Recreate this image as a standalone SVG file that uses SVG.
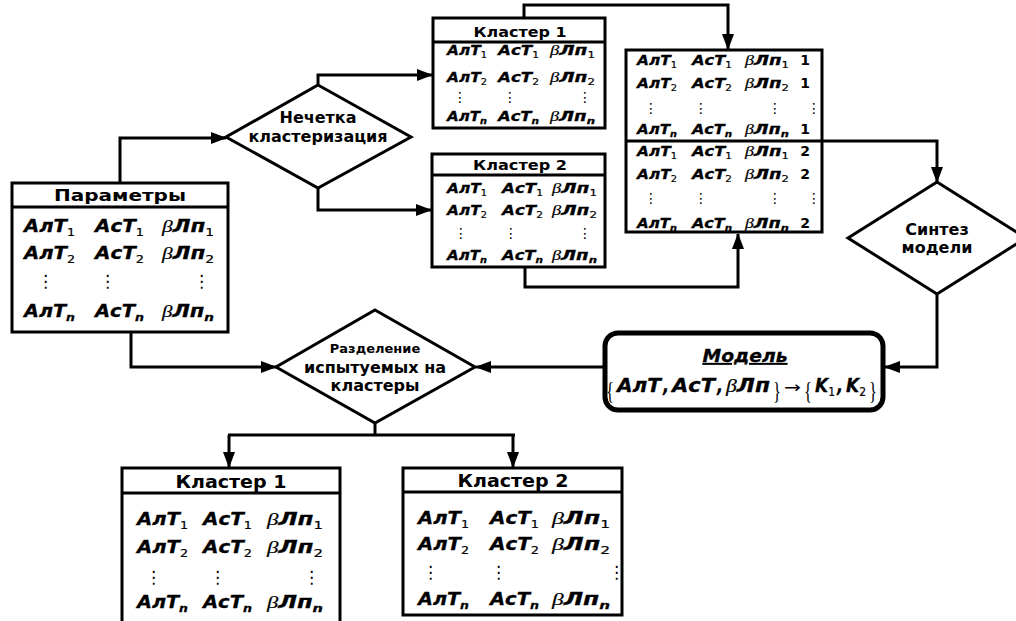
<svg xmlns="http://www.w3.org/2000/svg" width="1016" height="621" viewBox="0 0 1016 621">
<defs>
<marker id="ah" viewBox="0 0 16 12" refX="15" refY="6" markerWidth="16" markerHeight="12" markerUnits="userSpaceOnUse" orient="auto"><path d="M0,0 L16,6 L0,12 z" fill="#000"/></marker>
<style>
.box{fill:#fff;stroke:#000;stroke-width:3}
.ln{fill:none;stroke:#000;stroke-width:3}
.con{fill:none;stroke:#000;stroke-width:3;marker-end:url(#ah)}
.h{font-family:"DejaVu Sans","Liberation Sans",sans-serif;font-weight:bold;text-anchor:middle;fill:#000}
.v{font-family:"DejaVu Sans","Liberation Sans",sans-serif;font-weight:bold;font-style:italic;fill:#000;stroke:#000;stroke-width:0.3}
.b{font-family:"Liberation Serif",serif;font-style:italic;font-weight:normal;stroke-width:0.2}
.sb{font-weight:normal;font-style:normal;stroke-width:0.2}
.sn{font-weight:bold;font-style:italic}
.d{font-family:"DejaVu Sans",sans-serif;fill:#000}
.f17{font-size:17px}
.f14{font-size:14px}
.s17{font-size:11px}
.s14{font-size:9px}
.br{font-family:"Liberation Serif",serif;font-size:26px;fill:#000}
.ar{font-family:"DejaVu Sans",sans-serif;font-size:16px;fill:#000}
</style>
</defs>

<g id="connectors">
<polyline class="con" points="120,183 120,138 226,138"/>
<polyline class="con" points="318,85 318,75 432,75"/>
<polyline class="con" points="318,188 318,210 431,210"/>
<polyline class="con" points="524,18 524,5 728,5 728,49"/>
<polyline class="con" points="525,267 525,287 738,287 738,234"/>
<polyline class="con" points="822,141 937,141 937,182"/>
<polyline class="con" points="937,294 937,367 885,367"/>
<polyline class="con" points="605,367 476,367"/>
<polyline class="con" points="131,332 131,367 276,367"/>
<polyline class="ln" points="375,423 375,435"/>
<polyline class="ln" points="228,435 515,435"/>
<polyline class="con" points="229,435 229,467"/>
<polyline class="con" points="513,435 513,467"/>
</g>

<g id="params">
<rect class="box" x="12" y="183" width="216" height="149"/>
<line class="ln" x1="12" y1="207" x2="228" y2="207"/>
<text class="h" x="120" y="201" font-size="16" textLength="132" lengthAdjust="spacingAndGlyphs">Параметры</text>
<text class="v f17" x="24" y="232" textLength="51" lengthAdjust="spacingAndGlyphs">АлТ<tspan class="sb s17" dy="4">1</tspan></text>
<text class="v f17" x="95" y="232" textLength="49" lengthAdjust="spacingAndGlyphs">АсТ<tspan class="sb s17" dy="4">1</tspan></text>
<text class="v f17" x="162" y="232" textLength="52" lengthAdjust="spacingAndGlyphs"><tspan class="b">β</tspan>Лп<tspan class="sb s17" dy="4">1</tspan></text>
<text class="v f17" x="24" y="259" textLength="51" lengthAdjust="spacingAndGlyphs">АлТ<tspan class="sb s17" dy="4">2</tspan></text>
<text class="v f17" x="95" y="259" textLength="49" lengthAdjust="spacingAndGlyphs">АсТ<tspan class="sb s17" dy="4">2</tspan></text>
<text class="v f17" x="162" y="259" textLength="52" lengthAdjust="spacingAndGlyphs"><tspan class="b">β</tspan>Лп<tspan class="sb s17" dy="4">2</tspan></text>
<text class="d f17" x="37" y="287">⋮</text>
<text class="d f17" x="99" y="287">⋮</text>
<text class="d f17" x="193" y="287">⋮</text>
<text class="v f17" x="24" y="317" textLength="51" lengthAdjust="spacingAndGlyphs">АлТ<tspan class="sn s17" dy="4">n</tspan></text>
<text class="v f17" x="95" y="317" textLength="49" lengthAdjust="spacingAndGlyphs">АсТ<tspan class="sn s17" dy="4">n</tspan></text>
<text class="v f17" x="162" y="317" textLength="52" lengthAdjust="spacingAndGlyphs"><tspan class="b">β</tspan>Лп<tspan class="sn s17" dy="4">n</tspan></text>
</g>

<g id="fuzzy">
<polygon class="box" points="318,85 411,137 318,188 226,137"/>
<text class="h" x="318" y="123" font-size="16">Нечетка</text>
<text class="h" x="318" y="142" font-size="16">кластеризация</text>
</g>

<g id="cluster1top">
<rect class="box" x="433" y="18" width="172" height="110"/>
<line class="ln" x1="433" y1="42" x2="605" y2="42"/>
<text class="h" x="520" y="37" font-size="14" textLength="93" lengthAdjust="spacingAndGlyphs">Кластер 1</text>
<text class="v f14" x="447" y="55" textLength="40" lengthAdjust="spacingAndGlyphs">АлТ<tspan class="sb s14" dy="3">1</tspan></text>
<text class="v f14" x="498" y="55" textLength="41" lengthAdjust="spacingAndGlyphs">АсТ<tspan class="sb s14" dy="3">1</tspan></text>
<text class="v f14" x="550" y="55" textLength="45" lengthAdjust="spacingAndGlyphs"><tspan class="b">β</tspan>Лп<tspan class="sb s14" dy="3">1</tspan></text>
<text class="v f14" x="447" y="82" textLength="40" lengthAdjust="spacingAndGlyphs">АлТ<tspan class="sb s14" dy="3">2</tspan></text>
<text class="v f14" x="498" y="82" textLength="41" lengthAdjust="spacingAndGlyphs">АсТ<tspan class="sb s14" dy="3">2</tspan></text>
<text class="v f14" x="550" y="82" textLength="45" lengthAdjust="spacingAndGlyphs"><tspan class="b">β</tspan>Лп<tspan class="sb s14" dy="3">2</tspan></text>
<text class="d f14" x="453" y="102">⋮</text>
<text class="d f14" x="503" y="102">⋮</text>
<text class="d f14" x="578" y="102">⋮</text>
<text class="v f14" x="447" y="121" textLength="40" lengthAdjust="spacingAndGlyphs">АлТ<tspan class="sn s14" dy="3">n</tspan></text>
<text class="v f14" x="498" y="121" textLength="41" lengthAdjust="spacingAndGlyphs">АсТ<tspan class="sn s14" dy="3">n</tspan></text>
<text class="v f14" x="550" y="121" textLength="45" lengthAdjust="spacingAndGlyphs"><tspan class="b">β</tspan>Лп<tspan class="sn s14" dy="3">n</tspan></text>
</g>

<g id="cluster2top">
<rect class="box" x="432" y="154" width="173" height="113"/>
<line class="ln" x1="432" y1="175" x2="605" y2="175"/>
<text class="h" x="520" y="170" font-size="14" textLength="94" lengthAdjust="spacingAndGlyphs">Кластер 2</text>
<text class="v f14" x="447" y="193" textLength="40" lengthAdjust="spacingAndGlyphs">АлТ<tspan class="sb s14" dy="3">1</tspan></text>
<text class="v f14" x="502" y="193" textLength="41" lengthAdjust="spacingAndGlyphs">АсТ<tspan class="sb s14" dy="3">1</tspan></text>
<text class="v f14" x="552" y="193" textLength="45" lengthAdjust="spacingAndGlyphs"><tspan class="b">β</tspan>Лп<tspan class="sb s14" dy="3">1</tspan></text>
<text class="v f14" x="447" y="215" textLength="40" lengthAdjust="spacingAndGlyphs">АлТ<tspan class="sb s14" dy="3">2</tspan></text>
<text class="v f14" x="502" y="215" textLength="41" lengthAdjust="spacingAndGlyphs">АсТ<tspan class="sb s14" dy="3">2</tspan></text>
<text class="v f14" x="552" y="215" textLength="45" lengthAdjust="spacingAndGlyphs"><tspan class="b">β</tspan>Лп<tspan class="sb s14" dy="3">2</tspan></text>
<text class="d f14" x="454" y="238">⋮</text>
<text class="d f14" x="504" y="238">⋮</text>
<text class="d f14" x="578" y="238">⋮</text>
<text class="v f14" x="447" y="260" textLength="40" lengthAdjust="spacingAndGlyphs">АлТ<tspan class="sn s14" dy="3">n</tspan></text>
<text class="v f14" x="502" y="260" textLength="41" lengthAdjust="spacingAndGlyphs">АсТ<tspan class="sn s14" dy="3">n</tspan></text>
<text class="v f14" x="552" y="260" textLength="45" lengthAdjust="spacingAndGlyphs"><tspan class="b">β</tspan>Лп<tspan class="sn s14" dy="3">n</tspan></text>
</g>

<g id="combined">
<rect class="box" x="626" y="50" width="196" height="182"/>
<line class="ln" x1="626" y1="141" x2="822" y2="141"/>
<text class="v f14" x="637" y="65" textLength="40" lengthAdjust="spacingAndGlyphs">АлТ<tspan class="sb s14" dy="3">1</tspan></text>
<text class="v f14" x="692" y="65" textLength="40" lengthAdjust="spacingAndGlyphs">АсТ<tspan class="sb s14" dy="3">1</tspan></text>
<text class="v f14" x="745" y="65" textLength="44" lengthAdjust="spacingAndGlyphs"><tspan class="b">β</tspan>Лп<tspan class="sb s14" dy="3">1</tspan></text>
<text class="h f14" x="805" y="65">1</text>
<text class="v f14" x="637" y="88" textLength="40" lengthAdjust="spacingAndGlyphs">АлТ<tspan class="sb s14" dy="3">2</tspan></text>
<text class="v f14" x="692" y="88" textLength="40" lengthAdjust="spacingAndGlyphs">АсТ<tspan class="sb s14" dy="3">2</tspan></text>
<text class="v f14" x="745" y="88" textLength="44" lengthAdjust="spacingAndGlyphs"><tspan class="b">β</tspan>Лп<tspan class="sb s14" dy="3">2</tspan></text>
<text class="h f14" x="805" y="88">1</text>
<text class="d f14" x="644" y="113">⋮</text>
<text class="d f14" x="694" y="113">⋮</text>
<text class="d f14" x="768" y="113">⋮</text>
<text class="d f14" x="807" y="113">⋮</text>
<text class="v f14" x="637" y="134" textLength="40" lengthAdjust="spacingAndGlyphs">АлТ<tspan class="sn s14" dy="3">n</tspan></text>
<text class="v f14" x="692" y="134" textLength="40" lengthAdjust="spacingAndGlyphs">АсТ<tspan class="sn s14" dy="3">n</tspan></text>
<text class="v f14" x="745" y="134" textLength="44" lengthAdjust="spacingAndGlyphs"><tspan class="b">β</tspan>Лп<tspan class="sn s14" dy="3">n</tspan></text>
<text class="h f14" x="805" y="134">1</text>
<text class="v f14" x="637" y="156" textLength="40" lengthAdjust="spacingAndGlyphs">АлТ<tspan class="sb s14" dy="3">1</tspan></text>
<text class="v f14" x="692" y="156" textLength="40" lengthAdjust="spacingAndGlyphs">АсТ<tspan class="sb s14" dy="3">1</tspan></text>
<text class="v f14" x="745" y="156" textLength="44" lengthAdjust="spacingAndGlyphs"><tspan class="b">β</tspan>Лп<tspan class="sb s14" dy="3">1</tspan></text>
<text class="h f14" x="805" y="156">2</text>
<text class="v f14" x="637" y="179" textLength="40" lengthAdjust="spacingAndGlyphs">АлТ<tspan class="sb s14" dy="3">2</tspan></text>
<text class="v f14" x="692" y="179" textLength="40" lengthAdjust="spacingAndGlyphs">АсТ<tspan class="sb s14" dy="3">2</tspan></text>
<text class="v f14" x="745" y="179" textLength="44" lengthAdjust="spacingAndGlyphs"><tspan class="b">β</tspan>Лп<tspan class="sb s14" dy="3">2</tspan></text>
<text class="h f14" x="805" y="179">2</text>
<text class="d f14" x="644" y="203">⋮</text>
<text class="d f14" x="694" y="203">⋮</text>
<text class="d f14" x="768" y="203">⋮</text>
<text class="d f14" x="807" y="203">⋮</text>
<text class="v f14" x="637" y="228" textLength="40" lengthAdjust="spacingAndGlyphs">АлТ<tspan class="sn s14" dy="3">n</tspan></text>
<text class="v f14" x="692" y="228" textLength="40" lengthAdjust="spacingAndGlyphs">АсТ<tspan class="sn s14" dy="3">n</tspan></text>
<text class="v f14" x="745" y="228" textLength="44" lengthAdjust="spacingAndGlyphs"><tspan class="b">β</tspan>Лп<tspan class="sn s14" dy="3">n</tspan></text>
<text class="h f14" x="805" y="228">2</text>
</g>

<g id="synthesis">
<polygon class="box" points="937,182 1026,238 937,294 848,238"/>
<text class="h" x="937" y="235" font-size="16">Синтез</text>
<text class="h" x="937" y="253" font-size="16">модели</text>
</g>

<g id="model">
<rect x="605" y="333" width="278" height="77" rx="13" fill="#fff" stroke="#000" stroke-width="5"/>
<text class="v" x="745" y="362" font-size="18" text-anchor="middle" text-decoration="underline" textLength="85" lengthAdjust="spacingAndGlyphs">Модель</text>
<text class="br" x="606" y="399" textLength="8" lengthAdjust="spacingAndGlyphs">{</text>
<text class="v" x="617" y="392" font-size="19" textLength="44" lengthAdjust="spacingAndGlyphs">АлТ</text>
<text class="v" x="663" y="392" font-size="19" textLength="6" lengthAdjust="spacingAndGlyphs">,</text>
<text class="v" x="672" y="392" font-size="19" textLength="43" lengthAdjust="spacingAndGlyphs">АсТ</text>
<text class="v" x="717" y="392" font-size="19" textLength="6" lengthAdjust="spacingAndGlyphs">,</text>
<text class="v" x="726" y="392" font-size="19" textLength="44" lengthAdjust="spacingAndGlyphs"><tspan class="b">β</tspan>Лп</text>
<text class="br" x="773" y="399" textLength="8" lengthAdjust="spacingAndGlyphs">}</text>
<text class="ar" x="784" y="393" textLength="17" lengthAdjust="spacingAndGlyphs">→</text>
<text class="br" x="804" y="399" textLength="8" lengthAdjust="spacingAndGlyphs">{</text>
<text class="v" x="815" y="392" font-size="19" textLength="20" lengthAdjust="spacingAndGlyphs">K<tspan class="sb" font-size="12" dy="4">1</tspan></text>
<text class="v" x="837" y="392" font-size="19" textLength="6" lengthAdjust="spacingAndGlyphs">,</text>
<text class="v" x="846" y="392" font-size="19" textLength="20" lengthAdjust="spacingAndGlyphs">K<tspan class="sb" font-size="12" dy="4">2</tspan></text>
<text class="br" x="869" y="399" textLength="8" lengthAdjust="spacingAndGlyphs">}</text>
</g>

<g id="split">
<polygon class="box" points="375,310 475,367 375,423 276,367"/>
<text class="h" x="375" y="353" font-size="13">Разделение</text>
<text class="h" x="375" y="373" font-size="16">испытуемых на</text>
<text class="h" x="375" y="391" font-size="16">кластеры</text>
</g>

<g id="cluster1bottom">
<rect class="box" x="122" y="468" width="218" height="162"/>
<line class="ln" x1="122" y1="493" x2="340" y2="493"/>
<text class="h" x="231" y="488" font-size="17" textLength="111" lengthAdjust="spacingAndGlyphs">Кластер 1</text>
<text class="v f17" x="137" y="525" textLength="51" lengthAdjust="spacingAndGlyphs">АлТ<tspan class="sb s17" dy="4">1</tspan></text>
<text class="v f17" x="203" y="525" textLength="49" lengthAdjust="spacingAndGlyphs">АсТ<tspan class="sb s17" dy="4">1</tspan></text>
<text class="v f17" x="267" y="525" textLength="56" lengthAdjust="spacingAndGlyphs"><tspan class="b">β</tspan>Лп<tspan class="sb s17" dy="4">1</tspan></text>
<text class="v f17" x="137" y="553" textLength="51" lengthAdjust="spacingAndGlyphs">АлТ<tspan class="sb s17" dy="4">2</tspan></text>
<text class="v f17" x="203" y="553" textLength="49" lengthAdjust="spacingAndGlyphs">АсТ<tspan class="sb s17" dy="4">2</tspan></text>
<text class="v f17" x="267" y="553" textLength="56" lengthAdjust="spacingAndGlyphs"><tspan class="b">β</tspan>Лп<tspan class="sb s17" dy="4">2</tspan></text>
<text class="d f17" x="145" y="583">⋮</text>
<text class="d f17" x="209" y="583">⋮</text>
<text class="d f17" x="303" y="583">⋮</text>
<text class="v f17" x="137" y="608" textLength="51" lengthAdjust="spacingAndGlyphs">АлТ<tspan class="sn s17" dy="4">n</tspan></text>
<text class="v f17" x="203" y="608" textLength="49" lengthAdjust="spacingAndGlyphs">АсТ<tspan class="sn s17" dy="4">n</tspan></text>
<text class="v f17" x="267" y="608" textLength="56" lengthAdjust="spacingAndGlyphs"><tspan class="b">β</tspan>Лп<tspan class="sn s17" dy="4">n</tspan></text>
</g>

<g id="cluster2bottom">
<rect class="box" x="403" y="468" width="219" height="147"/>
<line class="ln" x1="403" y1="492" x2="622" y2="492"/>
<text class="h" x="513" y="487" font-size="17" textLength="111" lengthAdjust="spacingAndGlyphs">Кластер 2</text>
<text class="v f17" x="418" y="524" textLength="51" lengthAdjust="spacingAndGlyphs">АлТ<tspan class="sb s17" dy="4">1</tspan></text>
<text class="v f17" x="490" y="524" textLength="49" lengthAdjust="spacingAndGlyphs">АсТ<tspan class="sb s17" dy="4">1</tspan></text>
<text class="v f17" x="552" y="524" textLength="58" lengthAdjust="spacingAndGlyphs"><tspan class="b">β</tspan>Лп<tspan class="sb s17" dy="4">1</tspan></text>
<text class="v f17" x="418" y="550" textLength="51" lengthAdjust="spacingAndGlyphs">АлТ<tspan class="sb s17" dy="4">2</tspan></text>
<text class="v f17" x="490" y="550" textLength="49" lengthAdjust="spacingAndGlyphs">АсТ<tspan class="sb s17" dy="4">2</tspan></text>
<text class="v f17" x="552" y="550" textLength="58" lengthAdjust="spacingAndGlyphs"><tspan class="b">β</tspan>Лп<tspan class="sb s17" dy="4">2</tspan></text>
<text class="d f17" x="422" y="578">⋮</text>
<text class="d f17" x="490" y="578">⋮</text>
<text class="d f17" x="608" y="578">⋮</text>
<text class="v f17" x="418" y="605" textLength="51" lengthAdjust="spacingAndGlyphs">АлТ<tspan class="sn s17" dy="4">n</tspan></text>
<text class="v f17" x="490" y="605" textLength="49" lengthAdjust="spacingAndGlyphs">АсТ<tspan class="sn s17" dy="4">n</tspan></text>
<text class="v f17" x="552" y="605" textLength="58" lengthAdjust="spacingAndGlyphs"><tspan class="b">β</tspan>Лп<tspan class="sn s17" dy="4">n</tspan></text>
</g>
</svg>
